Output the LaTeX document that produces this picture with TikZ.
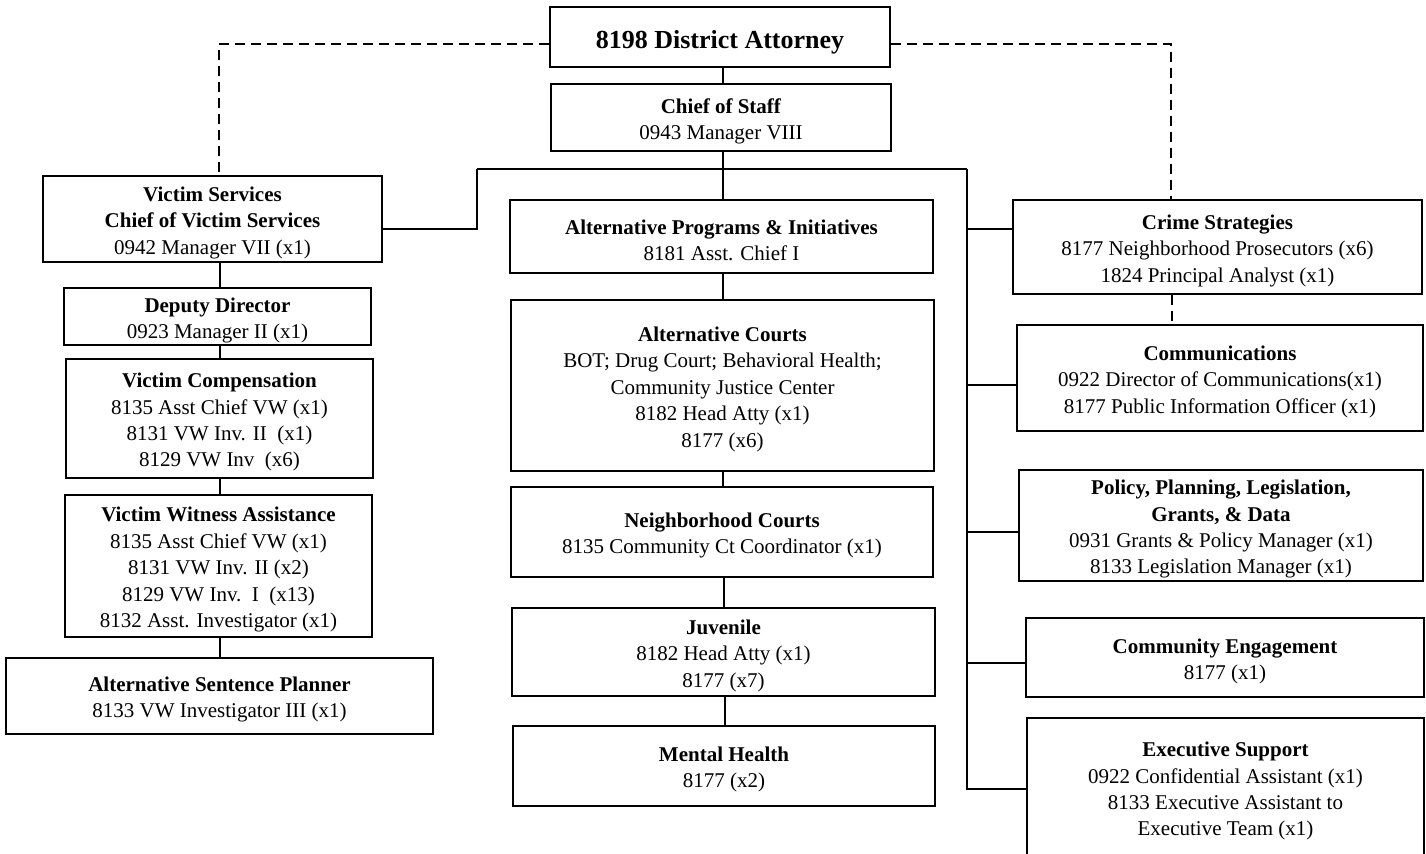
\documentclass[tikz,border=0pt]{standalone}
\usepackage{fontspec}
\setmainfont{Liberation Serif}
\begin{document}
\begin{tikzpicture}[x=0.5pt,y=-0.5pt,
  orgbox/.style={draw, line width=0.8pt, inner sep=0pt, align=center,
    font=\fontsize{10.5}{13.2}\selectfont},
  link/.style={line width=0.8pt},
  dlink/.style={line width=0.8pt, dash pattern=on 5pt off 3pt}]
\useasboundingbox (0,0) rectangle (1426,853);
\clip (0,0) rectangle (1426,853);
\newcommand\obox[6]{\node[orgbox, minimum width=#4*0.5pt, minimum height=#5*0.5pt] (#1) at (#2,#3) {\rule{0pt}{11pt}#6};}
% top
\obox{da}{720}{37}{340}{60}{\fontsize{13}{15}\selectfont\rule{0pt}{14pt}\textbf{8198 District Attorney}}
\obox{cos}{721}{117.5}{340}{67}{\textbf{Chief of Staff}\\0943 Manager VIII}
% left column
\obox{vs}{212.5}{219}{339}{86}{\textbf{Victim Services}\\\textbf{Chief of Victim Services}\\0942 Manager VII (x1)}
\obox{dd}{217.5}{316.5}{307}{57}{\textbf{Deputy Director}\\0923 Manager II (x1)}
\obox{vc}{219.5}{418.5}{307}{119}{\textbf{Victim Compensation}\\8135 Asst Chief VW (x1)\\8131 VW Inv. II\ \ (x1)\\8129 VW Inv\ \ (x6)}
\obox{vwa}{218.5}{566}{307}{142}{\textbf{Victim Witness Assistance}\\8135 Asst Chief VW (x1)\\8131 VW Inv. II (x2)\\8129 VW Inv.\ \ I\ \ (x13)\\8132 Asst. Investigator (x1)}
\obox{asp}{219.5}{696}{427}{76}{\textbf{Alternative Sentence Planner}\\8133 VW Investigator III (x1)}
% centre column
\obox{api}{721.5}{236.5}{423}{73}{\textbf{Alternative Programs \& Initiatives}\\8181 Asst. Chief I}
\obox{ac}{722.5}{385.5}{423}{171}{\textbf{Alternative Courts}\\BOT; Drug Court; Behavioral Health;\\Community Justice Center\\8182 Head Atty (x1)\\8177 (x6)}
\obox{nc}{722}{532}{422}{90}{\textbf{Neighborhood Courts}\\8135 Community Ct Coordinator (x1)}
\obox{juv}{723.5}{652}{423}{88}{\textbf{Juvenile}\\8182 Head Atty (x1)\\8177 (x7)}
\obox{mh}{724}{766}{422}{80}{\textbf{Mental Health}\\8177 (x2)}
% right column
\obox{cs}{1217.5}{247}{409}{94}{\textbf{Crime Strategies}\\8177 Neighborhood Prosecutors (x6)\\1824 Principal Analyst (x1)}
\obox{comm}{1220}{378}{406}{106}{\textbf{Communications}\\0922 Director of Communications(x1)\\8177 Public Information Officer (x1)}
\obox{ppl}{1221}{525.5}{404}{111}{\textbf{Policy, Planning, Legislation,}\\\textbf{Grants, \& Data}\\0931 Grants \& Policy Manager (x1)\\8133 Legislation Manager (x1)}
\obox{ce}{1225}{657.5}{398}{79}{\textbf{Community Engagement}\\8177 (x1)}
\obox{es}{1225.5}{787.5}{397}{139}{\textbf{Executive Support}\\0922 Confidential Assistant (x1)\\8133 Executive Assistant to\\Executive Team (x1)}
% solid connectors
\draw[link] (da.south -| 723,0) -- (cos.north -| 723,0);
\draw[link] (cos.south -| 723,0) -- (api.north -| 723,0);
\coordinate (bl) at (477,169);
\coordinate (br) at (967,169);
\coordinate (rbot) at (967,789);
\draw[link] (bl) -- (br);
\draw[link] (vs.east |- 0,229) -| (bl);
\draw[link] (br) -- (rbot) -- (es.west |- rbot);
\draw[link] (cs.west |- 0,229) -- (br |- 0,229);
\draw[link] (comm.west |- 0,385) -- (br |- 0,385);
\draw[link] (ppl.west |- 0,532) -- (br |- 0,532);
\draw[link] (ce.west |- 0,663) -- (br |- 0,663);
% left column chain
\draw[link] (vs.south -| 220,0) -- (dd.north -| 220,0);
\draw[link] (dd.south -| 220,0) -- (vc.north -| 220,0);
\draw[link] (vc.south -| 220,0) -- (vwa.north -| 220,0);
\draw[link] (vwa.south -| 220,0) -- (asp.north -| 220,0);
% centre column chain
\draw[link] (api.south -| 723,0) -- (ac.north -| 723,0);
\draw[link] (ac.south -| 723,0) -- (nc.north -| 723,0);
\draw[link] (nc.south -| 724,0) -- (juv.north -| 724,0);
\draw[link] (juv.south -| 725,0) -- (mh.north -| 725,0);
% dashed connectors
\draw[dlink] (da.west |- 0,44) -| (vs.north -| 219,0);
\draw[dlink] (da.east |- 0,44) -| (cs.north -| 1171,0);
\draw[dlink] (cs.south -| 1172,0) -- (comm.north -| 1172,0);
\end{tikzpicture}
\end{document}
